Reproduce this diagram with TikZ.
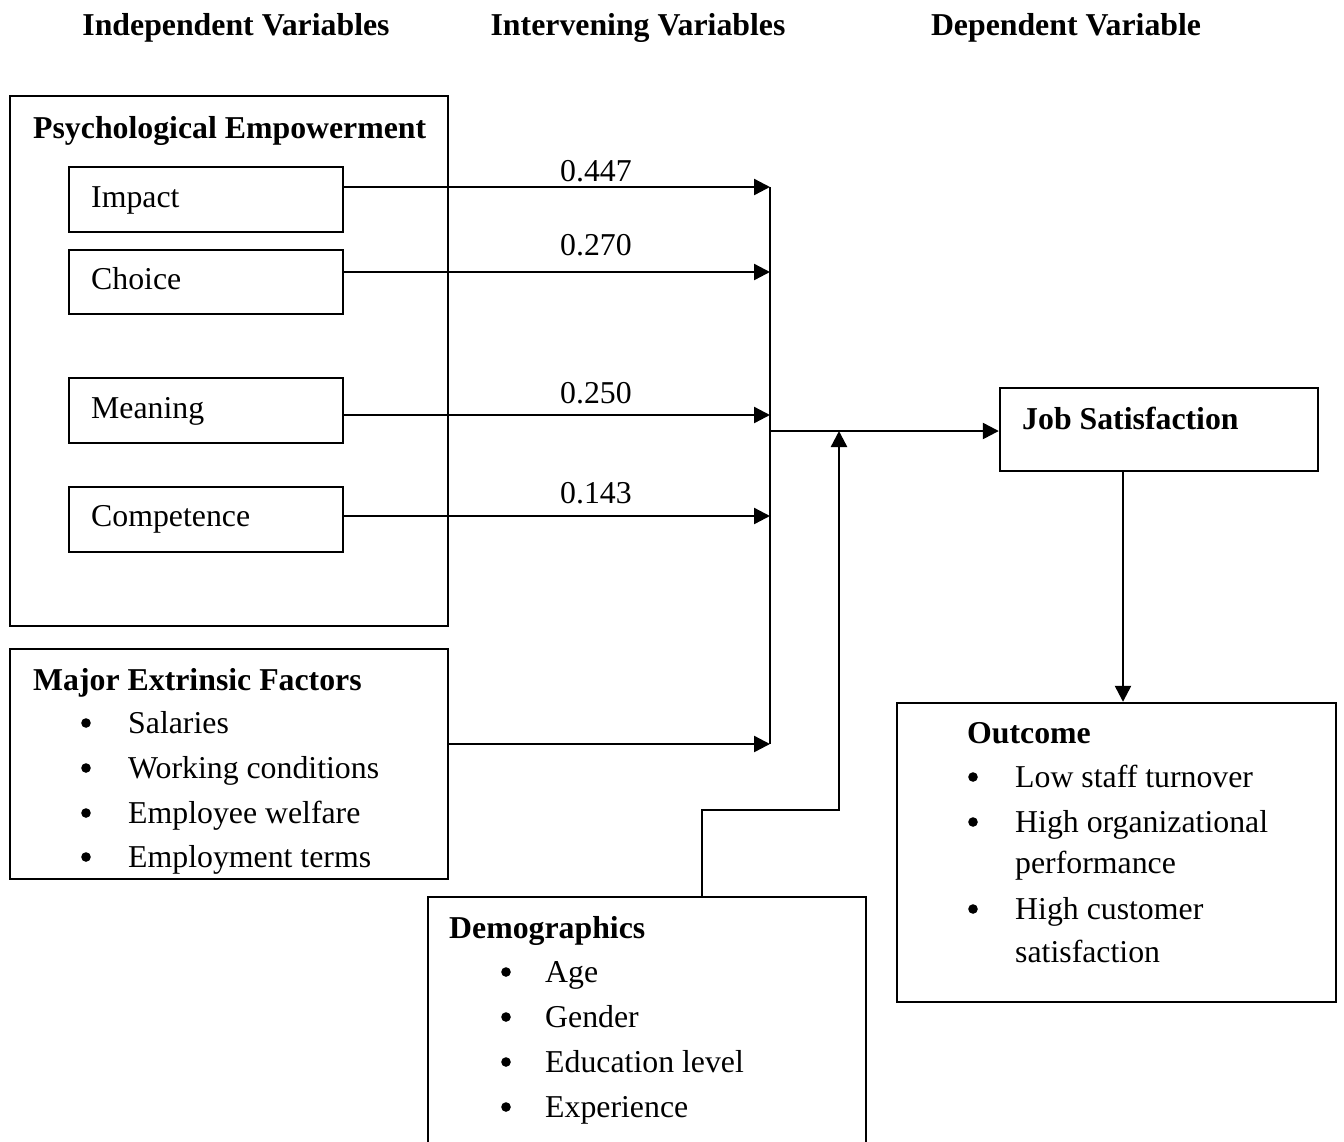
\documentclass[tikz,border=0pt]{standalone}
\usepackage{fontspec}
\setmainfont{Liberation Serif}
\usetikzlibrary{arrows.meta,fit}
\begin{document}
\begin{tikzpicture}[x=0.5pt,y=-0.5pt,line width=1.2pt,
  box/.style={draw,inner sep=0pt},
  txt/.style={inner sep=0pt,anchor=base west,font=\fontsize{15.9pt}{19pt}\selectfont},
  btxt/.style={inner sep=0pt,anchor=base west,font=\fontsize{15.9pt}{19pt}\selectfont\bfseries},
  htxt/.style={inner sep=0pt,anchor=base,font=\fontsize{15.9pt}{19pt}\selectfont\bfseries},
  lbl/.style={inner sep=0pt,anchor=base,font=\fontsize{15.9pt}{19pt}\selectfont},
  bul/.style={circle,fill,inner sep=0pt,minimum size=4.8pt},
  arr/.style={-{Triangle[length=8pt,width=8pt]}}]
\clip (0,0) rectangle (1344,1141);
\fill[white] (0,0) rectangle (1344,1141);

% headers
\node[htxt] (h1) at (236,35) {Independent Variables};
\node[htxt] (h2) at (638,35) {Intervening Variables};
\node[htxt] (h3) at (1066,35) {Dependent Variable};

% psychological empowerment
\node[box,fit={(10,96) (448,626)}] (pe) {};
\node[btxt] (pet) at (32,138) {Psychological Empowerment};
\node[box,fit={(69,167) (343,232)}] (impact) {};
\node[txt] (impactt) at (90,207) {Impact};
\node[box,fit={(69,250) (343,314)}] (choice) {};
\node[txt] (choicet) at (90,289) {Choice};
\node[box,fit={(69,378) (343,443)}] (meaning) {};
\node[txt] (meaningt) at (90,418) {Meaning};
\node[box,fit={(69,487) (343,552)}] (comp) {};
\node[txt] (compt) at (90,526) {Competence};

% major extrinsic factors
\node[box,fit={(10,649) (448,879)}] (mef) {};
\node[btxt] (meft) at (32,690) {Major Extrinsic Factors};
\foreach \i/\y/\t in {1/733/Salaries,2/778/Working conditions,3/823/Employee welfare,4/867/Employment terms}{
  \node[bul] (mb\i) at (86,\y-10) {};
  \node[txt] (mi\i) at (127,\y) {\t};
}

% bus coordinates
\coordinate (b1) at (770,187);
\coordinate (b2) at (770,272);
\coordinate (b3) at (770,415);
\coordinate (b4) at (770,516);
\coordinate (b5) at (770,744);
\coordinate (j) at (770,431);

\draw[arr] (impact.east |- b1) -- (b1);
\draw[arr] (choice.east |- b2) -- (b2);
\draw[arr] (meaning.east |- b3) -- (b3);
\draw[arr] (comp.east |- b4) -- (b4);
\draw[arr] (mef.east |- b5) -- (b5);
\draw (b1) -- (b5);

\node[lbl] (l1) at (596,181) {0.447};
\node[lbl] (l2) at (596,255) {0.270};
\node[lbl] (l3) at (596,403) {0.250};
\node[lbl] (l4) at (596,503) {0.143};

% job satisfaction
\node[box,fit={(1000,388) (1318,471)}] (js) {};
\node[btxt] (jst) at (1021,429) {Job Satisfaction};
\draw[arr] (j) -- (js.west |- j);

% outcome
\node[box,fit={(897,703) (1336,1002)}] (out) {};
\node[btxt] (outt) at (966,743) {Outcome};
\node[bul] (ob1) at (973,777) {};
\node[txt] (oi1) at (1014,787) {Low staff turnover};
\node[bul] (ob2) at (973,822) {};
\node[txt] (oi2) at (1014,832) {High organizational};
\node[txt] (oi2b) at (1014,873) {performance};
\node[bul] (ob3) at (973,909) {};
\node[txt] (oi3) at (1014,919) {High customer};
\node[txt] (oi3b) at (1014,962) {satisfaction};
\coordinate (dx) at (1123,600);
\draw[arr] (dx |- js.south) -- (dx |- out.north);

% demographics
\node[box,fit={(428,897) (866,1170)}] (demo) {};
\node[btxt] (demot) at (448,938) {Demographics};
\foreach \i/\y/\t in {1/982/Age,2/1027/Gender,3/1072/Education level,4/1117/Experience}{
  \node[bul] (db\i) at (506,\y-10) {};
  \node[txt] (di\i) at (544,\y) {\t};
}
\coordinate (k1) at (702,810);
\coordinate (k2) at (839,810);
\draw[arr] (k1 |- demo.north) -- (k1) -- (k2) -- (k2 |- j);
\end{tikzpicture}
\end{document}
